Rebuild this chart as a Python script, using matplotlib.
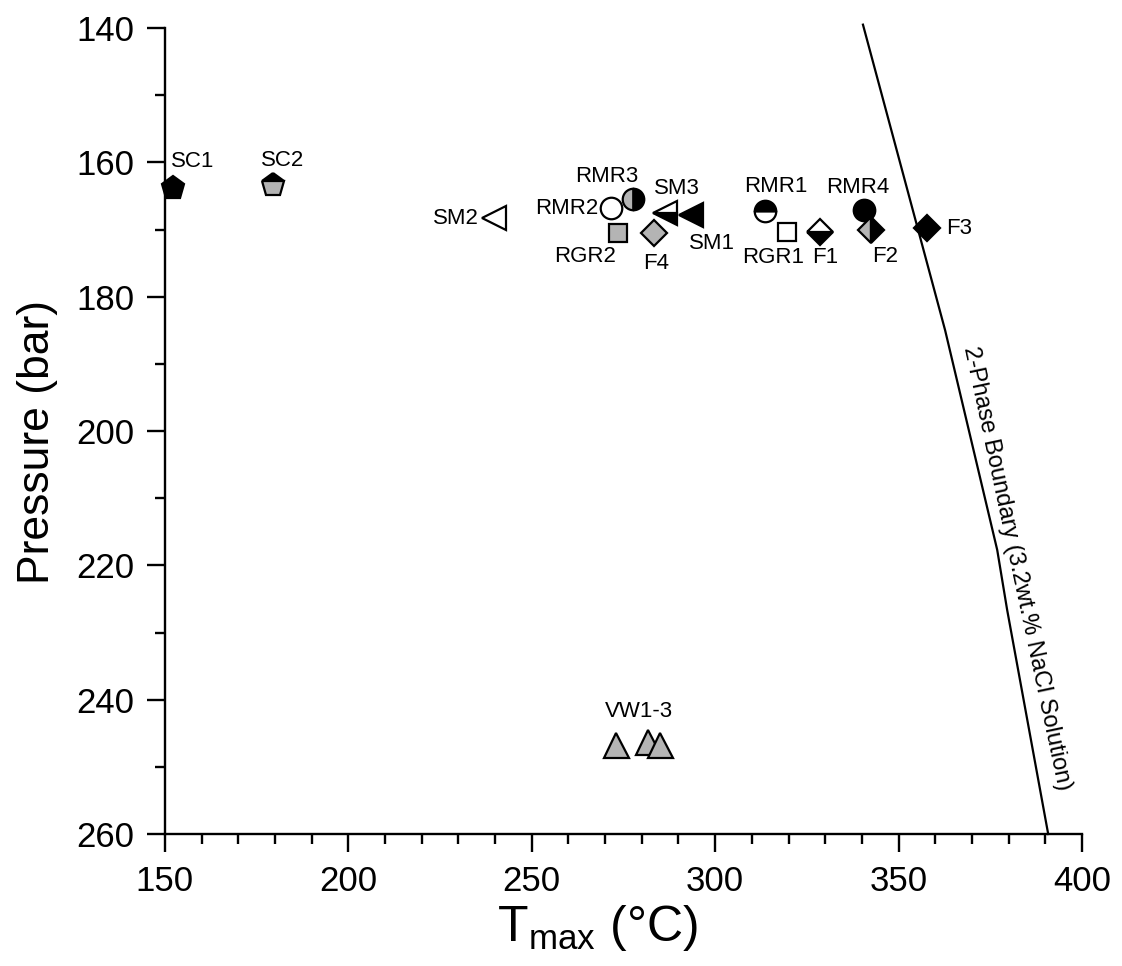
import matplotlib
matplotlib.use("Agg")
import matplotlib.pyplot as plt
from matplotlib.ticker import MultipleLocator

plt.rcParams['font.family'] = ['Liberation Sans', 'DejaVu Sans']
plt.rcParams['mathtext.default'] = 'regular'

# sample points: name, Tmax (C), pressure (bar)
names = ['SC1', 'SC2', 'SM2', 'RMR2', 'RMR3', 'SM3', 'SM1', 'RGR2', 'F4',
         'RMR1', 'RGR1', 'F1', 'RMR4', 'F2', 'F3']
tmax = [152.2, 179.5, 239.6, 271.5, 277.5, 286.4, 293.4, 273.4, 283.4,
        313.5, 319.6, 328.6, 340.6, 342.5, 357.8]
pres = [163.8, 163.4, 168.3, 166.8, 165.4, 167.6, 167.8, 170.5, 170.5,
        167.2, 170.3, 170.3, 167.1, 170.1, 169.8]

# vent water group
vw_t = [273.0, 281.6, 285.0]
vw_p = [246.7, 246.3, 246.7]

# two-phase boundary
bound_t = [340.3, 362.7, 376.9, 379.6, 390.8]
bound_p = [139.5, 185.0, 217.7, 226.6, 260.0]

G = '#b4b4b4'
# marker, fillstyle, face, alt face, size
style = {
    'SC1': ('p', 'full', 'k', 'k', 17),
    'SC2': ('p', 'top', 'k', G, 17),
    'SM2': ('<', 'full', 'w', 'w', 17),
    'RMR2': ('o', 'full', 'w', 'w', 15.5),
    'RMR3': ('o', 'left', G, 'k', 15.5),
    'SM3': ('<', 'bottom', 'k', 'w', 17),
    'SM1': ('<', 'full', 'k', 'k', 17),
    'RGR2': ('s', 'full', G, G, 13.5),
    'F4': ('D', 'full', G, G, 13.5),
    'RMR1': ('o', 'top', 'k', 'w', 15.5),
    'RGR1': ('s', 'full', 'w', 'w', 13.5),
    'F1': ('D', 'bottom', 'k', 'w', 13.5),
    'RMR4': ('o', 'full', 'k', 'k', 15.5),
    'F2': ('D', 'left', G, 'k', 13.5),
    'F3': ('D', 'full', 'k', 'k', 13.5),
}
# label offsets in pixels and alignment
lab = {
    'SC1': (20, 26, 'center'), 'SC2': (9, 25, 'center'), 'SM2': (-15, 0, 'right'),
    'RMR2': (-12, 0, 'right'), 'RMR3': (-26, 22, 'center'), 'SM3': (12, 25, 'center'),
    'SM1': (21, -29, 'center'), 'RGR2': (-33, -24, 'center'), 'F4': (2, -31, 'center'),
    'RMR1': (11, 24, 'center'), 'RGR1': (-14, -26, 'center'), 'F1': (5, -26, 'center'),
    'RMR4': (-6, 23, 'center'), 'F2': (14, -26, 'center'), 'F3': (19, 0, 'left'),
}

fig = plt.figure(figsize=(11.22, 9.66), dpi=100)
ax = fig.add_axes([0.147, 0.1366, 0.8173, 0.8344])

ax.plot(bound_t, bound_p, color='k', lw=1.6, clip_on=False, zorder=1)

for n, t, p in zip(names, tmax, pres):
    m, fs, fc, fca, ms = style[n]
    ax.plot(t, p, marker=m, fillstyle=fs, markerfacecolor=fc,
            markerfacecoloralt=fca, markeredgecolor='k', markeredgewidth=1.6,
            ms=ms, ls='none', clip_on=False, zorder=3)
    dx, dy, ha = lab[n]
    ax.annotate(n, (t, p), xytext=(dx, dy), textcoords='offset pixels',
                ha=ha, va='center', fontsize=16)

ax.plot(vw_t, vw_p, marker='^', color=G, markeredgecolor='k',
        markeredgewidth=1.6, ms=18, ls='none', zorder=3)
ax.text(279.1, 241.8, 'VW1-3', ha='center', va='center', fontsize=16)

ax.text(382.3, 220.4, '2-Phase Boundary (3.2wt.% NaCl Solution)',
        rotation=-78, rotation_mode='anchor', ha='center', va='center',
        fontsize=17)

ax.set_xlim(150, 400)
ax.set_ylim(260, 140)
ax.xaxis.set_major_locator(MultipleLocator(50))
ax.xaxis.set_minor_locator(MultipleLocator(10))
ax.yaxis.set_major_locator(MultipleLocator(20))
ax.yaxis.set_minor_locator(MultipleLocator(10))

for s in ['top', 'right']:
    ax.spines[s].set_visible(False)
for s in ['left', 'bottom']:
    ax.spines[s].set_linewidth(1.7)

ax.tick_params(which='major', direction='out', length=13, width=1.7,
               labelsize=25, pad=9)
ax.tick_params(which='minor', direction='out', length=7, width=1.7)

ax.set_xlabel('T$_{max}$ (°C)', fontsize=36)
ax.set_ylabel('Pressure (bar)', fontsize=32)
ax.xaxis.set_label_coords(0.472, -0.085)
ax.yaxis.set_label_coords(-0.117, 0.486)

fig.savefig('out.png', dpi=100)
